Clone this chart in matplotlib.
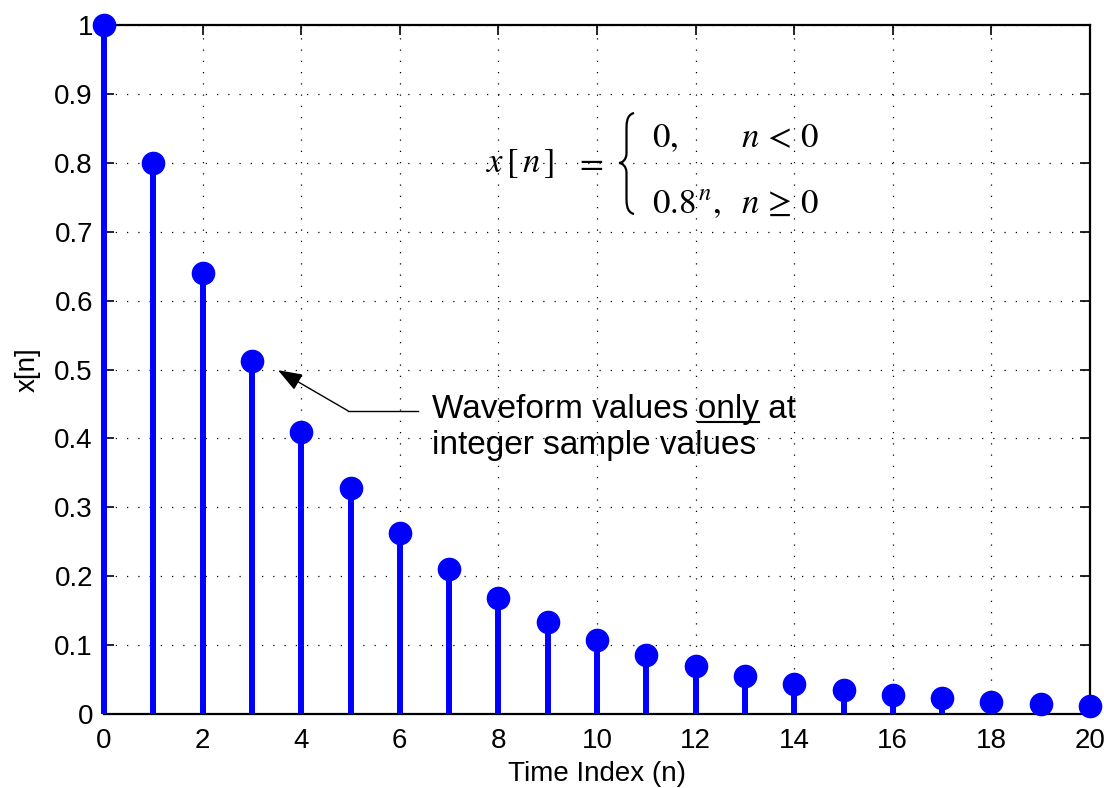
import numpy as np
import matplotlib
matplotlib.use("Agg")
import matplotlib.pyplot as plt
from matplotlib.path import Path
from matplotlib.patches import PathPatch

plt.rcParams['font.family'] = ['Liberation Sans', 'DejaVu Sans']
plt.rcParams['mathtext.fontset'] = 'stix'

# --- data ---
n = [0, 1, 2, 3, 4, 5, 6, 7, 8, 9, 10, 11, 12, 13, 14, 15, 16, 17, 18, 19, 20]
x_n = [1.0, 0.8, 0.64, 0.512, 0.41, 0.328, 0.262, 0.21, 0.168, 0.134, 0.107,
       0.086, 0.069, 0.055, 0.044, 0.035, 0.028, 0.023, 0.018, 0.014, 0.012]
xticks = [0, 2, 4, 6, 8, 10, 12, 14, 16, 18, 20]
yticks = [0, 0.1, 0.2, 0.3, 0.4, 0.5, 0.6, 0.7, 0.8, 0.9, 1]
ytick_labels = ['0', '0.1', '0.2', '0.3', '0.4', '0.5', '0.6', '0.7', '0.8', '0.9', '1']

W, H = 1104, 788
fig = plt.figure(figsize=(W / 100, H / 100), dpi=100)
ax = fig.add_axes([104 / W, 1 - 714 / H, 986 / W, 689 / H])

blue = (0, 0, 1)
ax.vlines(n, 0, x_n, color=blue, linewidth=4.3, zorder=3, clip_on=False)
ax.plot(n, x_n, 'o', color=blue, markersize=16, zorder=4, clip_on=False)

ax.set_xlim(0, 20)
ax.set_ylim(0, 1)
ax.set_xticks(xticks)
ax.set_yticks(yticks)
ax.set_yticklabels(ytick_labels)
ax.tick_params(direction='in', length=7, width=1.2, labelsize=20,
               top=True, right=True, colors='black')
ax.tick_params(axis='x', pad=10)
ax.tick_params(axis='y', pad=8)
for sp in ax.spines.values():
    sp.set_linewidth(1.6)
    sp.set_zorder(2)
ax.grid(True, color='black', linestyle=(0, (1, 8)), linewidth=0.9)
ax.set_axisbelow(True)

ax.set_xlabel('Time Index (n)', fontsize=20, labelpad=5)
ax.set_ylabel('x[n]', fontsize=20, labelpad=10)

# --- equation (figure pixel coordinates) ---
def fx(px):
    return px / W

def fy(py):
    return 1 - py / H

eq_fs = 25
fig.text(fx(486), fy(172), r'$x\,[\,n\,]$', fontsize=eq_fs, va='baseline', ha='left')
fig.text(fx(574), fy(172), r'$=$', fontsize=eq_fs, va='baseline', ha='left')
fig.text(fx(652), fy(147), r'$0,$', fontsize=eq_fs, va='baseline', ha='left')
fig.text(fx(741), fy(147), r'$n\,<\,0$', fontsize=eq_fs, va='baseline', ha='left')
fig.text(fx(652), fy(213), r'$0.8^{\,n},$', fontsize=eq_fs, va='baseline', ha='left')
fig.text(fx(741), fy(213), r'$n\,\geq\,0$', fontsize=eq_fs, va='baseline', ha='left')

# thin curly brace drawn as a stroked path (pixel coords)
bx, top, mid, bot, w = 634, 113, 163, 214, 15
verts = [
    (bx, top), (bx - w * 0.55, top + 2), (bx - w * 0.5, top + 12), (bx - w * 0.5, top + 20),
    (bx - w * 0.5, mid - 10),
    (bx - w * 0.5, mid - 3), (bx - w * 0.8, mid), (bx - w, mid),
    (bx - w * 0.8, mid), (bx - w * 0.5, mid + 3), (bx - w * 0.5, mid + 10),
    (bx - w * 0.5, bot - 20),
    (bx - w * 0.5, bot - 12), (bx - w * 0.55, bot - 2), (bx, bot),
]
codes = [Path.MOVETO, Path.CURVE4, Path.CURVE4, Path.CURVE4,
         Path.LINETO,
         Path.CURVE4, Path.CURVE4, Path.CURVE4,
         Path.CURVE4, Path.CURVE4, Path.CURVE4,
         Path.LINETO,
         Path.CURVE4, Path.CURVE4, Path.CURVE4]
verts = [(vx, H - vy) for vx, vy in verts]
brace = PathPatch(Path(verts, codes), facecolor='none', edgecolor='black',
                  linewidth=1.6, transform=None)
fig.add_artist(brace)

# --- annotation ---
ax.annotate('', xy=(3.53, 0.499), xytext=(4.95, 0.44),
            arrowprops=dict(arrowstyle='-|>,head_length=1.5,head_width=0.55',
                            color='black', linewidth=1.0, shrinkA=0, shrinkB=0))
ax.plot([4.95, 6.37], [0.44, 0.44], color='black', linewidth=1.0, zorder=5)

txt_fs = 24
t1 = ax.text(6.65, 0.442, 'Waveform values only at', fontsize=txt_fs,
             va='center', ha='left')
ax.text(6.65, 0.39, 'integer sample values', fontsize=txt_fs,
        va='center', ha='left')

# underline "only"
fig.canvas.draw()
r = fig.canvas.get_renderer()
tmp = ax.text(6.65, 0.442, 'Waveform values ', fontsize=txt_fs, va='center', ha='left')
w_pre = tmp.get_window_extent(r).width
tmp.remove()
tmp = ax.text(6.65, 0.442, 'only', fontsize=txt_fs, va='center', ha='left')
w_only = tmp.get_window_extent(r).width
tmp.remove()
bb = t1.get_window_extent(r)
ux0 = bb.x0 + w_pre
uy = bb.y0 + 3
ax.plot([ux0, ux0 + w_only], [uy, uy], color='black', linewidth=1.5,
        transform=None, zorder=5)

fig.savefig('out.png', dpi=100)
